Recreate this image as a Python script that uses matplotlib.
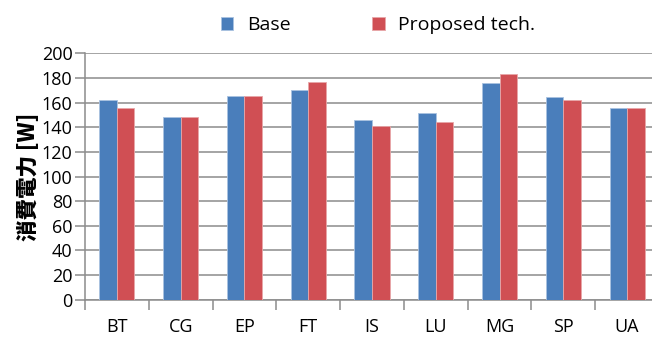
import numpy as np
from matplotlib import pyplot as plt

categories = ['BT', 'CG', 'EP', 'FT', 'IS', 'LU', 'MG', 'SP', 'UA']
base = [162, 148.5, 165, 170, 145.5, 151.5, 176, 164.5, 156]
proposed = [156, 148.5, 165, 176.5, 141, 144.5, 183.5, 162, 156]

plt.rcParams['font.family'] = ['Open Sans', 'DejaVu Sans']

fig = plt.figure(figsize=(6.52, 3.38), dpi=100)
ax = fig.add_axes([85 / 652, 1 - 299.7 / 338, 574 / 652, 246.4 / 338])

x = np.arange(len(categories))
w = 0.275
ax.bar(x - w / 2, base, w, color='#4A7EBB', edgecolor='#A9C2E0', linewidth=0.6,
       label='Base', zorder=3)
ax.bar(x + w / 2, proposed, w, color='#D04F54', edgecolor='#E8A6A8', linewidth=0.6,
       label='Proposed tech.', zorder=3)

ax.set_xlim(-0.5, len(categories) - 0.5)
ax.set_ylim(0, 200)
ax.set_yticks(range(0, 201, 20))
ax.yaxis.grid(True, color='#8C8C8C', linewidth=1.1, zorder=0)

ax.set_xticks(x)
ax.set_xticklabels(categories, fontsize=13)
ax.set_xticks(np.arange(-0.5, len(categories), 1), minor=True)
ax.tick_params(axis='x', which='major', length=0, pad=13)
ax.tick_params(axis='x', which='minor', length=7, color='#8C8C8C', width=1.1)
ax.tick_params(axis='y', length=7, color='#8C8C8C', width=1.1, labelsize=13, pad=2)

for s in ['top', 'right']:
    ax.spines[s].set_visible(False)
ax.spines['left'].set_color('#8C8C8C')
ax.spines['bottom'].set_color('#8C8C8C')
ax.spines['left'].set_linewidth(1.1)
ax.spines['bottom'].set_linewidth(1.1)

ax.set_ylabel('消費電力 [W]', fontsize=15.5, fontweight='heavy',
              family=['Noto Sans CJK JP', 'DejaVu Sans'], labelpad=1)

fig.legend(loc='center', bbox_to_anchor=(378 / 652, 1 - 25 / 338), ncol=2,
           frameon=False, fontsize=14, handlelength=0.65, handleheight=0.65,
           handletextpad=0.7, columnspacing=4.2)

fig.savefig('out.png', dpi=100)
